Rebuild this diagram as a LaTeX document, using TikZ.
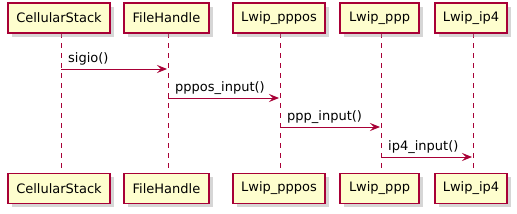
\documentclass[tikz,border=0pt]{standalone}
\usepackage{fontspec}
\setmainfont{DejaVu Sans}
\usetikzlibrary{arrows.meta,shadows}
\definecolor{pbord}{HTML}{A80036}
\definecolor{pfill}{HTML}{FEFECE}
\begin{document}
\begin{tikzpicture}[x=1pt,y=-1pt,
  part/.style={draw=pbord, line width=1.4pt, fill=pfill, minimum height=30pt, inner sep=0pt,
    font=\fontsize{13pt}{15pt}\selectfont,
    drop shadow={shadow xshift=3.5pt, shadow yshift=-3.5pt, fill=black!40, opacity=0.4}},
  life/.style={draw=pbord, line width=0.9pt, dash pattern=on 5pt off 5pt},
  msg/.style={draw=pbord, line width=1pt, -{Stealth[length=10pt,width=8pt,inset=4pt]}},
  lbl/.style={anchor=south west, inner sep=0pt, font=\fontsize{13pt}{15pt}\selectfont}]
\useasboundingbox (0,0) rectangle (517,214);
\fill[white] (0,0) rectangle (517,214);
% lifeline coordinates
\coordinate (l1t) at (61,33); \coordinate (l1b) at (61,173);
\coordinate (l2t) at (168,33); \coordinate (l2b) at (168,173);
\coordinate (l3t) at (280,33); \coordinate (l3b) at (280,173);
\coordinate (l4t) at (381,33); \coordinate (l4b) at (381,173);
\coordinate (l5t) at (473,33); \coordinate (l5b) at (473,173);
\draw[life] (l1t) -- (l1b);
\draw[life] (l2t) -- (l2b);
\draw[life] (l3t) -- (l3b);
\draw[life] (l4t) -- (l4b);
\draw[life] (l5t) -- (l5b);
% top participants
\node[part, minimum width=102pt] (t1) at (59,18) {CellularStack};
\node[part, minimum width=85pt] (t2) at (166.5,18) {FileHandle};
\node[part, minimum width=92pt] (t3) at (279,18) {Lwip\_pppos};
\node[part, minimum width=79pt] (t4) at (379.5,18) {Lwip\_ppp};
\node[part, minimum width=72pt] (t5) at (471,18) {Lwip\_ip4};
% bottom participants
\node[part, minimum width=102pt] (b1) at (59,188.5) {CellularStack};
\node[part, minimum width=85pt] (b2) at (166.5,188.5) {FileHandle};
\node[part, minimum width=92pt] (b3) at (279,188.5) {Lwip\_pppos};
\node[part, minimum width=79pt] (b4) at (379.5,188.5) {Lwip\_ppp};
\node[part, minimum width=72pt] (b5) at (471,188.5) {Lwip\_ip4};
% messages
\coordinate (m1s) at (61,69); \coordinate (m1e) at (167,69);
\coordinate (m2s) at (168,98); \coordinate (m2e) at (279,98);
\coordinate (m3s) at (280,127); \coordinate (m3e) at (380,127);
\coordinate (m4s) at (381,157); \coordinate (m4e) at (472,157);
\draw[msg] (m1s) -- (m1e);
\draw[msg] (m2s) -- (m2e);
\draw[msg] (m3s) -- (m3e);
\draw[msg] (m4s) -- (m4e);
\node[lbl] (s1) at ([xshift=7pt,yshift=3.5pt]m1s) {sigio()};
\node[lbl] (s2) at ([xshift=7pt,yshift=3.5pt]m2s) {pppos\_input()};
\node[lbl] (s3) at ([xshift=7pt,yshift=3.5pt]m3s) {ppp\_input()};
\node[lbl] (s4) at ([xshift=7pt,yshift=3.5pt]m4s) {ip4\_input()};
\end{tikzpicture}
\end{document}
